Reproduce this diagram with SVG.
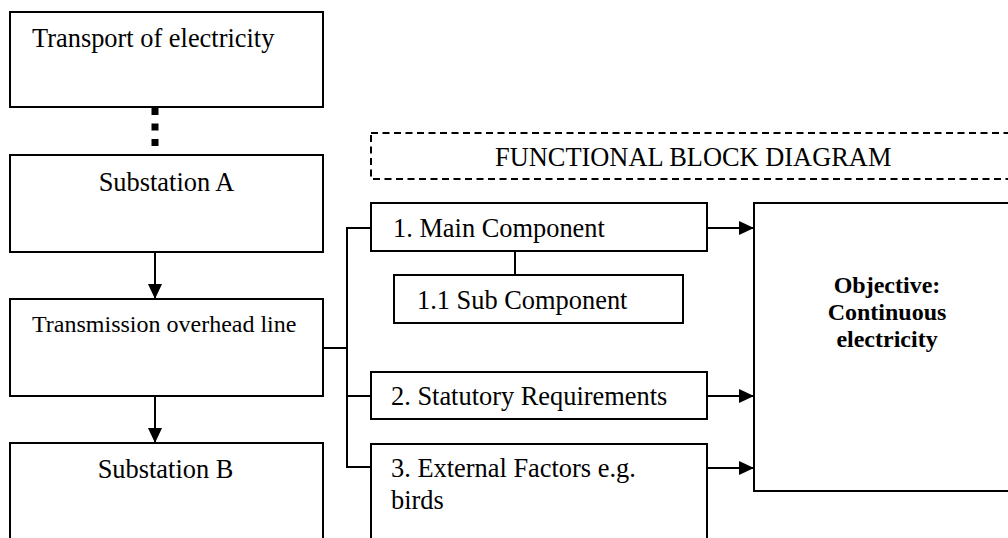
<svg xmlns="http://www.w3.org/2000/svg" width="1008" height="538" viewBox="0 0 1008 538">
  <style>
    .box { fill: #ffffff; stroke: #000000; stroke-width: 2; }
    .dash { fill: none; stroke: #000000; stroke-width: 2; stroke-dasharray: 7 4.5; }
    .line { fill: none; stroke: #000000; stroke-width: 2; }
    .dots { fill: none; stroke: #000000; stroke-width: 7; stroke-dasharray: 7 8.5; }
    .t { font-family: "Liberation Serif", "Times New Roman", serif; font-size: 26.4px; fill: #000000; }
    .ts { font-family: "Liberation Serif", "Times New Roman", serif; font-size: 24px; fill: #000000; }
    .tb { font-family: "Liberation Serif", "Times New Roman", serif; font-size: 24px; font-weight: bold; fill: #000000; text-anchor: middle; }
  </style>
  <defs>
    <marker id="arrow" viewBox="0 0 15 14" refX="15" refY="7" markerWidth="15" markerHeight="14" markerUnits="userSpaceOnUse" orient="auto">
      <path d="M0,0 L15,7 L0,14 Z" fill="#000000"/>
    </marker>
  </defs>

  <rect width="1008" height="538" fill="#ffffff"/>

  <!-- connectors -->
  <g id="connectors">
    <line class="dots" x1="155" y1="108" x2="155" y2="155"/>
    <line class="line" x1="155" y1="252" x2="155" y2="299" marker-end="url(#arrow)"/>
    <line class="line" x1="155" y1="396" x2="155" y2="443" marker-end="url(#arrow)"/>
    <polyline class="line" points="323,348 347,348"/>
    <polyline class="line" points="371,228 347,228 347,467 371,467"/>
    <line class="line" x1="347" y1="396" x2="371" y2="396"/>
    <line class="line" x1="515" y1="251" x2="515" y2="275"/>
    <line class="line" x1="707" y1="228" x2="754" y2="228" marker-end="url(#arrow)"/>
    <line class="line" x1="707" y1="396" x2="754" y2="396" marker-end="url(#arrow)"/>
    <line class="line" x1="707" y1="468" x2="754" y2="468" marker-end="url(#arrow)"/>
  </g>

  <g id="transport">
    <rect class="box" x="10" y="12" width="313" height="95"/>
    <text class="t" x="32" y="47">Transport of electricity</text>
  </g>

  <g id="substation-a">
    <rect class="box" x="10" y="155" width="313" height="97"/>
    <text class="t" x="166.5" y="191" text-anchor="middle">Substation A</text>
  </g>

  <g id="overhead-line">
    <rect class="box" x="10" y="299" width="313" height="97"/>
    <text class="ts" x="32" y="332">Transmission overhead line</text>
  </g>

  <g id="substation-b">
    <rect class="box" x="10" y="443" width="313" height="110"/>
    <text class="t" x="165.5" y="478" text-anchor="middle">Substation B</text>
  </g>

  <g id="block-diagram-title">
    <rect class="dash" x="371" y="133" width="660" height="46"/>
    <text class="t" x="495" y="166">FUNCTIONAL BLOCK DIAGRAM</text>
  </g>

  <g id="main-component">
    <rect class="box" x="371" y="203" width="336" height="48"/>
    <text class="t" x="393" y="237">1. Main Component</text>
  </g>

  <g id="sub-component">
    <rect class="box" x="394" y="275" width="289" height="48"/>
    <text class="t" x="417" y="309">1.1 Sub Component</text>
  </g>

  <g id="statutory">
    <rect class="box" x="371" y="372" width="336" height="47"/>
    <text class="t" x="391" y="405">2. Statutory Requirements</text>
  </g>

  <g id="external">
    <rect class="box" x="371" y="444" width="336" height="110"/>
    <text class="t" x="391" y="477">3. External Factors e.g.</text>
    <text class="t" x="391" y="509">birds</text>
  </g>

  <g id="objective">
    <rect class="box" x="754" y="203" width="270" height="288"/>
    <text class="tb" x="887" y="293">Objective:</text>
    <text class="tb" x="887" y="320">Continuous</text>
    <text class="tb" x="887" y="347">electricity</text>
  </g>
</svg>
